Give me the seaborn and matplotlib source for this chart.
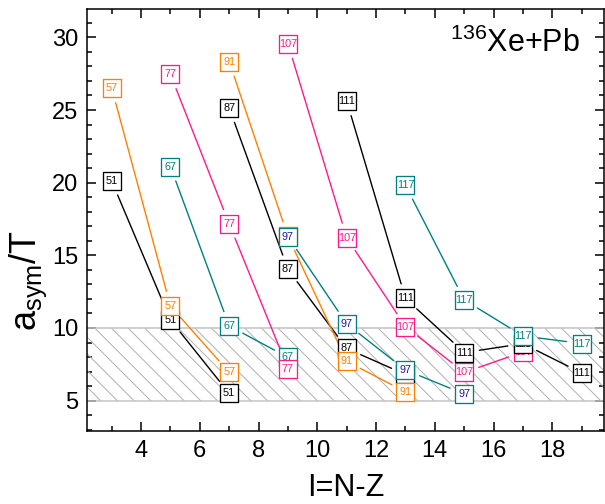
import matplotlib
matplotlib.use('Agg')
import matplotlib.pyplot as plt
import seaborn as sns
from matplotlib.ticker import MultipleLocator

# ---- data ----
names = ['51', '57', '67', '77', '87', '91', '97', '107', '111', '117']
I51 = [3, 5, 7];            a51 = [20.12, 10.55, 5.50]
I57 = [3, 5, 7];            a57 = [26.52, 11.51, 6.94]
I67 = [5, 7, 9];            a67 = [21.11, 10.14, 7.98]
I77 = [5, 7, 9];            a77 = [27.45, 17.16, 7.21]
I87 = [7, 9, 11, 13];       a87 = [25.14, 14.03, 8.59, 6.80]
I91 = [7, 9, 11, 13];       a91 = [28.33, 16.30, 7.71, 5.60]
I97 = [9, 11, 13, 15];      a97 = [16.28, 10.28, 7.11, 5.46]
I107 = [9, 11, 13, 15, 17]; a107 = [29.56, 16.21, 10.10, 6.94, 8.35]
I111 = [11, 13, 15, 17, 19]; a111 = [25.62, 12.03, 8.31, 8.92, 6.90]
I117 = [13, 15, 17, 19];    a117 = [19.81, 11.93, 9.45, 8.93]

xs = [I51, I57, I67, I77, I87, I91, I97, I107, I111, I117]
ys = [a51, a57, a67, a77, a87, a91, a97, a107, a111, a117]

BLACK, ORANGE, TEAL, PINK, NAVY = '#000000', '#FF8000', '#008080', '#FF1A8C', '#1A1AA8'
line_colors = [BLACK, ORANGE, TEAL, PINK, BLACK, ORANGE, TEAL, PINK, BLACK, TEAL]
text_colors = [BLACK, ORANGE, TEAL, PINK, BLACK, ORANGE, NAVY, PINK, BLACK, TEAL]

band = (5, 10)
title = r'$^{136}$Xe+Pb'

# ---- style ----
sns.set_theme(style='ticks')
plt.rcParams['font.family'] = ['Liberation Sans', 'DejaVu Sans']
plt.rcParams['mathtext.fontset'] = 'custom'
plt.rcParams['mathtext.rm'] = 'Liberation Sans'
plt.rcParams['mathtext.it'] = 'Liberation Sans:italic'
plt.rcParams['hatch.linewidth'] = 0.7
for k in ['axes.edgecolor', 'text.color', 'axes.labelcolor', 'xtick.color', 'ytick.color']:
    plt.rcParams[k] = 'black'

fig = plt.figure(figsize=(6.05, 5.04), dpi=100)
ax = fig.add_axes([0.1443, 0.1454, 0.8537, 0.8361])

# shaded band
ax.axhspan(band[0], band[1], facecolor='none', edgecolor='#b0b0b0', hatch='\\\\', linewidth=0, zorder=1)
for b in band:
    ax.axhline(b, color='#c4c4c4', lw=1.1, zorder=1.1)

# lines with a gap to the symbols
for x, y, c in zip(xs, ys, line_colors):
    for i in range(len(x) - 1):
        ax.annotate('', xy=(x[i + 1], y[i + 1]), xytext=(x[i], y[i]),
                    arrowprops=dict(arrowstyle='-', color=c, lw=1.0, shrinkA=11, shrinkB=11),
                    zorder=2, annotation_clip=False)

# boxes + labels
for k, (x, y, c, tc, n) in enumerate(zip(xs, ys, line_colors, text_colors, names)):
    z = 3 + k * 0.1
    sns.scatterplot(x=x, y=y, ax=ax, marker='s', s=155, facecolor='white',
                    edgecolor=c, linewidth=0.95, zorder=z, legend=False)
    for xi, yi in zip(x, y):
        ax.text(xi, yi, n, ha='center', va='center', fontsize=7.8, color=tc, zorder=z + 0.05)

ax.set_xlim(2.17, 19.75)
ax.set_ylim(2.93, 31.93)
ax.xaxis.set_major_locator(MultipleLocator(2))
ax.xaxis.set_minor_locator(MultipleLocator(1))
ax.yaxis.set_major_locator(MultipleLocator(5))
ax.yaxis.set_minor_locator(MultipleLocator(1))
ax.tick_params(which='both', direction='in', top=True, right=True, width=1.1)
ax.tick_params(which='major', length=6.5, labelsize=17, pad=6.5)
ax.tick_params(which='minor', length=3.4)
for s in ax.spines.values():
    s.set_linewidth(1.1)
    s.set_visible(True)

ax.set_xlabel('I=N-Z', fontsize=22, labelpad=8)
ax.set_ylabel(r'a$_{\mathrm{sym}}$/T', fontsize=26)
ax.yaxis.set_label_coords(-0.075, 0.357)

ax.text(0.9536, 0.8994, title, transform=ax.transAxes, ha='right', va='baseline', fontsize=22)

fig.savefig('out.png', dpi=100)
